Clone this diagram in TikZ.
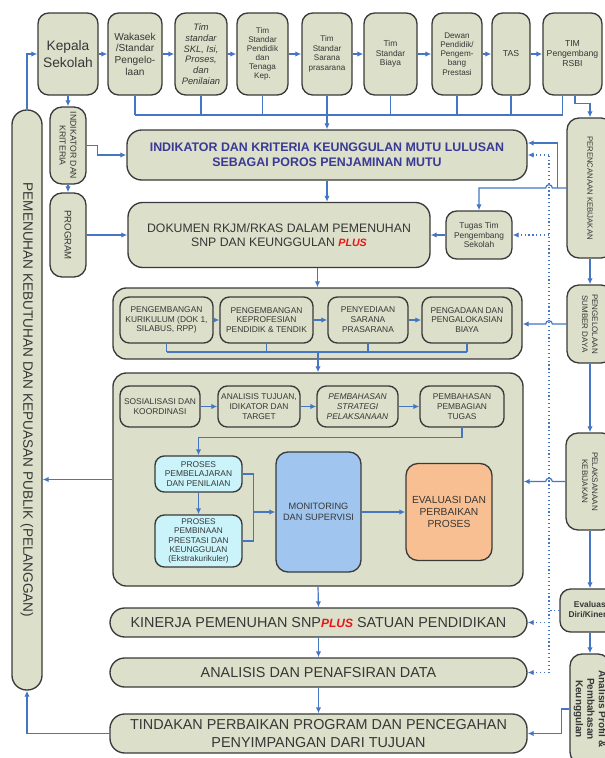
\documentclass[tikz,border=0pt]{standalone}
\usepackage{fontspec}
\setmainfont{Liberation Sans}
\usetikzlibrary{arrows.meta,calc}
\definecolor{boxcol}{RGB}{220,223,201}
\definecolor{edgecol}{RGB}{58,58,58}
\definecolor{linkcol}{RGB}{68,118,196}
\definecolor{textcol}{RGB}{55,55,55}
\definecolor{indcol}{RGB}{58,58,150}
\definecolor{procol}{RGB}{202,244,250}
\definecolor{moncol}{RGB}{160,198,240}
\definecolor{evacol}{RGB}{248,192,146}
\definecolor{pluscol}{RGB}{232,22,22}
\newcommand{\fs}[2]{\fontsize{#1}{#2}\selectfont}
\newcommand{\plusmark}{{\color{pluscol}\bfseries\itshape PLUS}}

\begin{document}
\begin{tikzpicture}[
  x=0.75pt, y=-0.75pt,
  sz/.style 2 args={minimum width=#1*0.75pt, minimum height=#2*0.75pt},
  unit/.style={rectangle, draw=edgecol, line width=1pt, fill=boxcol,
               text=textcol, align=center, inner sep=1pt},
  teambox/.style={unit, rounded corners=8pt},
  barbox/.style={unit, rounded corners=11pt},
  groupbox/.style={unit, rounded corners=10pt},
  stepbox/.style={unit, rounded corners=7pt, font=\fs{6.3}{7.4}},
  sidebox/.style={unit, rotate=-90, rounded corners=9pt},
  link/.style={draw=linkcol, line width=0.9pt},
  arr/.style={link, -{Latex[length=4.5pt,width=4pt]}},
  dotarr/.style={arr, dotted},
]
  \useasboundingbox (0,0) rectangle (605,758);
  \coordinate (dv) at (549,0);
  \coordinate (bus1) at (0,115);
  \coordinate (bus2) at (0,352);

  % Top row: head of school and the standard teams
  \node[teambox, sz={60}{82}, font=\fs{10.3}{12.5}] (kepala) at (68,54) {Kepala\\Sekolah};
  \node[teambox, sz={54}{82}, font=\fs{7.6}{8.8}] (wakasek) at (135,54) {Wakasek\\/Standar\\Pengelo-\\laan};
  \node[teambox, sz={52}{82}, font=\fs{7}{8}\itshape] (skl) at (201,54) {Tim\\standar\\SKL, Isi,\\Proses,\\dan\\Penilaian};
  \node[teambox, sz={51}{82}, font=\fs{6.1}{6.7}] (pendidik) at (262.5,54) {Tim\\Standar\\Pendidik\\dan\\Tenaga\\Kep.};
  \node[teambox, sz={50}{82}, font=\fs{6.1}{7.1}] (sarana) at (327,54) {Tim\\Standar\\Sarana\\prasarana};
  \node[teambox, sz={53}{82}, font=\fs{6.3}{7.1}] (biaya) at (390.5,54) {Tim\\Standar\\Biaya};
  \node[teambox, sz={50}{82}, font=\fs{6.1}{6.9}] (dewan) at (457,54) {Dewan\\Pendidik/\\Pengem-\\bang\\Prestasi};
  \node[teambox, sz={38}{82}, font=\fs{6.5}{7.5}] (tas) at (511,54) {TAS};
  \node[teambox, sz={59}{82}, font=\fs{6.5}{7.5}] (rsbi) at (572.5,54) {TIM\\Pengembang\\RSBI};

  \foreach \a/\b in {kepala/wakasek, wakasek/skl, skl/pendidik, pendidik/sarana,
                     sarana/biaya, biaya/dewan, dewan/tas, tas/rsbi}
    \draw[arr] (\a) -- (\b);

  % Team bus down to the indicators
  \foreach \n in {wakasek, skl, pendidik, sarana, biaya, dewan, tas}
    \draw[link] (\n.south) -- (\n.south |- bus1);
  \draw[link] ($(rsbi.south)+(-10,0)$) |- (wakasek.south |- bus1);

  % Left column
  \node[sidebox, sz={580}{30}, rounded corners=11pt, font=\fs{10.2}{12}] (pemenuhan) at (27,400)
    {PEMENUHAN KEBUTUHAN DAN KEPUASAN PUBLIK (PELANGGAN)};
  \node[sidebox, sz={77}{36}, font=\fs{6.5}{8.2}] (indkrit) at (68,145.5) {INDIKATOR DAN\\KRITERIA};
  \node[sidebox, sz={84}{36}, font=\fs{7.2}{8}] (program) at (68,235) {PROGRAM};

  % Main column
  \node[barbox, sz={400}{50}, font=\fs{9.3}{11.3}\bfseries, text=indcol] (indikator) at (327,155)
    {INDIKATOR DAN KRITERIA KEUNGGULAN MUTU LULUSAN\\SEBAGAI POROS PENJAMINAN MUTU};
  \node[barbox, sz={302}{65}, font=\fs{9.2}{10.6}] (dokumen) at (279,235)
    {DOKUMEN RKJM/RKAS DALAM PEMENUHAN\\SNP DAN KEUNGGULAN {\fs{8}{8}\plusmark}};
  \node[teambox, sz={66}{48}, font=\fs{6.3}{7}] (tugas) at (479,235) {Tugas Tim\\Pengembang\\Sekolah};

  % Resource group
  \node[groupbox, sz={409}{71}] (grp3) at (317.5,323.5) {};
  \node[stepbox, sz={93}{46}] (kur) at (166.5,320) {PENGEMBANGAN\\KURIKULUM (DOK 1,\\SILABUS, RPP)};
  \node[stepbox, sz={93}{46}] (prof) at (266.5,320) {PENGEMBANGAN\\KEPROFESIAN\\PENDIDIK \& TENDIK};
  \node[stepbox, sz={80}{46}] (sarpras) at (368,320) {PENYEDIAAN\\SARANA\\PRASARANA};
  \node[stepbox, sz={90}{46}] (dana) at (467,320) {PENGADAAN DAN\\PENGALOKASIAN\\BIAYA};

  % Implementation group
  \node[groupbox, sz={410}{213}] (grp4) at (318,479.5) {};
  \node[stepbox, sz={80}{41}] (sos) at (160,406.5) {SOSIALISASI DAN\\KOORDINASI};
  \node[stepbox, sz={82}{41}] (tujuan) at (259,406.5) {ANALISIS TUJUAN,\\IDIKATOR DAN\\TARGET};
  \node[stepbox, sz={81}{41}, font=\fs{6.3}{7.4}\itshape] (strategi) at (357.5,406.5) {PEMBAHASAN\\STRATEGI\\PELAKSANAAN};
  \node[stepbox, sz={84}{41}] (bagi) at (462,406.5) {PEMBAHASAN\\PEMBAGIAN\\TUGAS};
  \node[stepbox, sz={87}{36}, fill=procol] (belajar) at (198.5,474) {PROSES\\PEMBELAJARAN\\DAN PENILAIAN};
  \node[stepbox, sz={87}{52}, fill=procol, font=\fs{6.2}{7.1}] (bina) at (198.5,541)
    {PROSES\\PEMBINAAN\\PRESTASI DAN\\KEUNGGULAN\\(Ekstrakurikuler)};
  \node[stepbox, sz={85}{120}, fill=moncol, rounded corners=9pt, font=\fs{6.9}{8.2}] (monitor) at (318.5,512)
    {MONITORING\\DAN SUPERVISI};
  \node[stepbox, sz={86}{97}, fill=evacol, rounded corners=9pt, font=\fs{7.7}{8.8}] (evaluasi) at (449,512)
    {EVALUASI DAN\\PERBAIKAN\\PROSES};

  % Results
  \node[barbox, sz={417}{29}, font=\fs{10.8}{12.5}] (kinerja) at (318.5,622.5)
    {KINERJA PEMENUHAN SNP{\fs{9}{9}\plusmark} SATUAN PENDIDIKAN};
  \node[barbox, sz={417}{29}, font=\fs{10.8}{12.5}] (analisis) at (318.5,672.5) {ANALISIS DAN PENAFSIRAN DATA};
  \node[barbox, sz={417}{39}, font=\fs{10.8}{13}] (tindakan) at (318.5,733.5)
    {TINDAKAN PERBAIKAN PROGRAM DAN PENCEGAHAN\\PENYIMPANGAN DARI TUJUAN};

  % Right column
  \node[sidebox, sz={140}{46}, font=\fs{5.8}{7}] (perenc) at (590,188) {PERENCANAAN KEBIJAKAN};
  \node[sidebox, sz={78}{46}, font=\fs{6}{7.5}] (pengel) at (590,324) {PENGELOLAAN\\SUMBER DAYA};
  \node[sidebox, sz={97}{48}, font=\fs{6}{7.5}] (pelaks) at (590,481.5) {PELAKSANAAN\\KEBIJAKAN};
  \node[teambox, sz={62}{43}, font=\fs{6.3}{7.6}\bfseries] (evaldiri) at (591,610.5) {Evaluasi\\Diri/Kinerja};
  \node[sidebox, sz={110}{40}, font=\fs{7.5}{8.6}\bfseries] (profil) at (590,709)
    {Analisis Profil \&\\Pembahasan\\Keunggulan};

  % Left column links
  \draw[arr] (pemenuhan.west) |- (kepala.west);
  \draw[arr] (kepala.south) -- (indkrit.west);
  \draw[arr] (indkrit.north) -- ++(11,0) |- (indikator.west);
  \draw[arr] (indkrit.east) -- (program.west);
  \draw[arr] (program) -- (dokumen);
  \draw[arr] (grp4.west) -- (grp4.west -| pemenuhan.north);
  \draw[arr] (tindakan.west) -| (pemenuhan.east);

  % Main flow
  \draw[arr] (indikator.north |- bus1) -- (indikator.north);
  \draw[arr] (indikator.south) -- (indikator.south |- dokumen.north);
  \draw[arr] (tugas) -- (dokumen);
  \draw[arr] (grp3.north |- dokumen.south) -- (grp3.north);
  \foreach \a/\b in {kur/prof, prof/sarpras, sarpras/dana}
    \draw[arr] (\a) -- (\b);
  \foreach \n in {kur, prof, sarpras, dana}
    \draw[link] (\n.south) -- (\n.south |- bus2);
  \draw[link] (kur.south |- bus2) -- (dana.south |- bus2);
  \draw[arr] (grp4.north |- bus2) -- (grp4.north);
  \foreach \a/\b in {sos/tujuan, tujuan/strategi, strategi/bagi}
    \draw[arr] (\a) -- (\b);
  \draw[arr] (bagi.south) -- ++(0,10) -| (belajar.north);
  \draw[arr] (belajar) -- (bina);
  \draw[link] (belajar.east) -- ++(11,0) coordinate (jn) -- (jn |- bina.east) -- (bina.east);
  \draw[arr] (jn |- monitor.west) -- (monitor.west);
  \draw[arr] (monitor) -- (evaluasi);
  \draw[arr] (grp4.south) -- (kinerja.north);
  \draw[arr] (kinerja) -- (analisis);
  \draw[arr] (analisis) -- (tindakan);

  % Right column links
  \draw[arr] ($(rsbi.south)+(2.5,0)$) -- ++(0,8) -| (perenc.west);
  \draw[arr] (perenc.east) -- (pengel.west);
  \draw[arr] (pengel.east) -- (pelaks.west);
  \draw[arr] (pelaks.east) -- (pelaks.east |- evaldiri.north);
  \draw[arr] (evaldiri.south -| profil.west) -- (profil.west);
  \draw[arr] (profil.south) -- ++(-8,0) |- (tindakan.east);

  % Policy links, hopping over the dotted line
  \draw[arr] (perenc.south) -- ($(dv |- perenc.south)+(2.5pt,0)$)
    arc[start angle=0, end angle=180, radius=2.5pt] -| (tugas.north);
  \draw[arr] ($(perenc.south)+(-9,0)$) |- ($(indikator.east)+(0,-12)$);
  \draw[arr] (pengel.south) -- ($(dv |- pengel.south)+(2.5pt,0)$)
    arc[start angle=0, end angle=180, radius=2.5pt] -- (pengel.south -| grp3.east);
  \draw[arr] (pelaks.south) -- ($(dv |- pelaks.south)+(2.5pt,0)$)
    arc[start angle=0, end angle=180, radius=2.5pt] -- (pelaks.south -| grp4.east);

  % Feedback from self evaluation (dotted)
  \draw[link, dotted] (evaldiri.west) -- (dv |- evaldiri.west) -- (dv |- indikator.east);
  \draw[link, dotted] (dv |- evaldiri.west) -- (dv |- analisis.east);
  \foreach \t in {indikator, tugas, kinerja, analisis}
    \draw[dotarr] (dv |- \t.east) -- (\t.east);
\end{tikzpicture}
\end{document}
